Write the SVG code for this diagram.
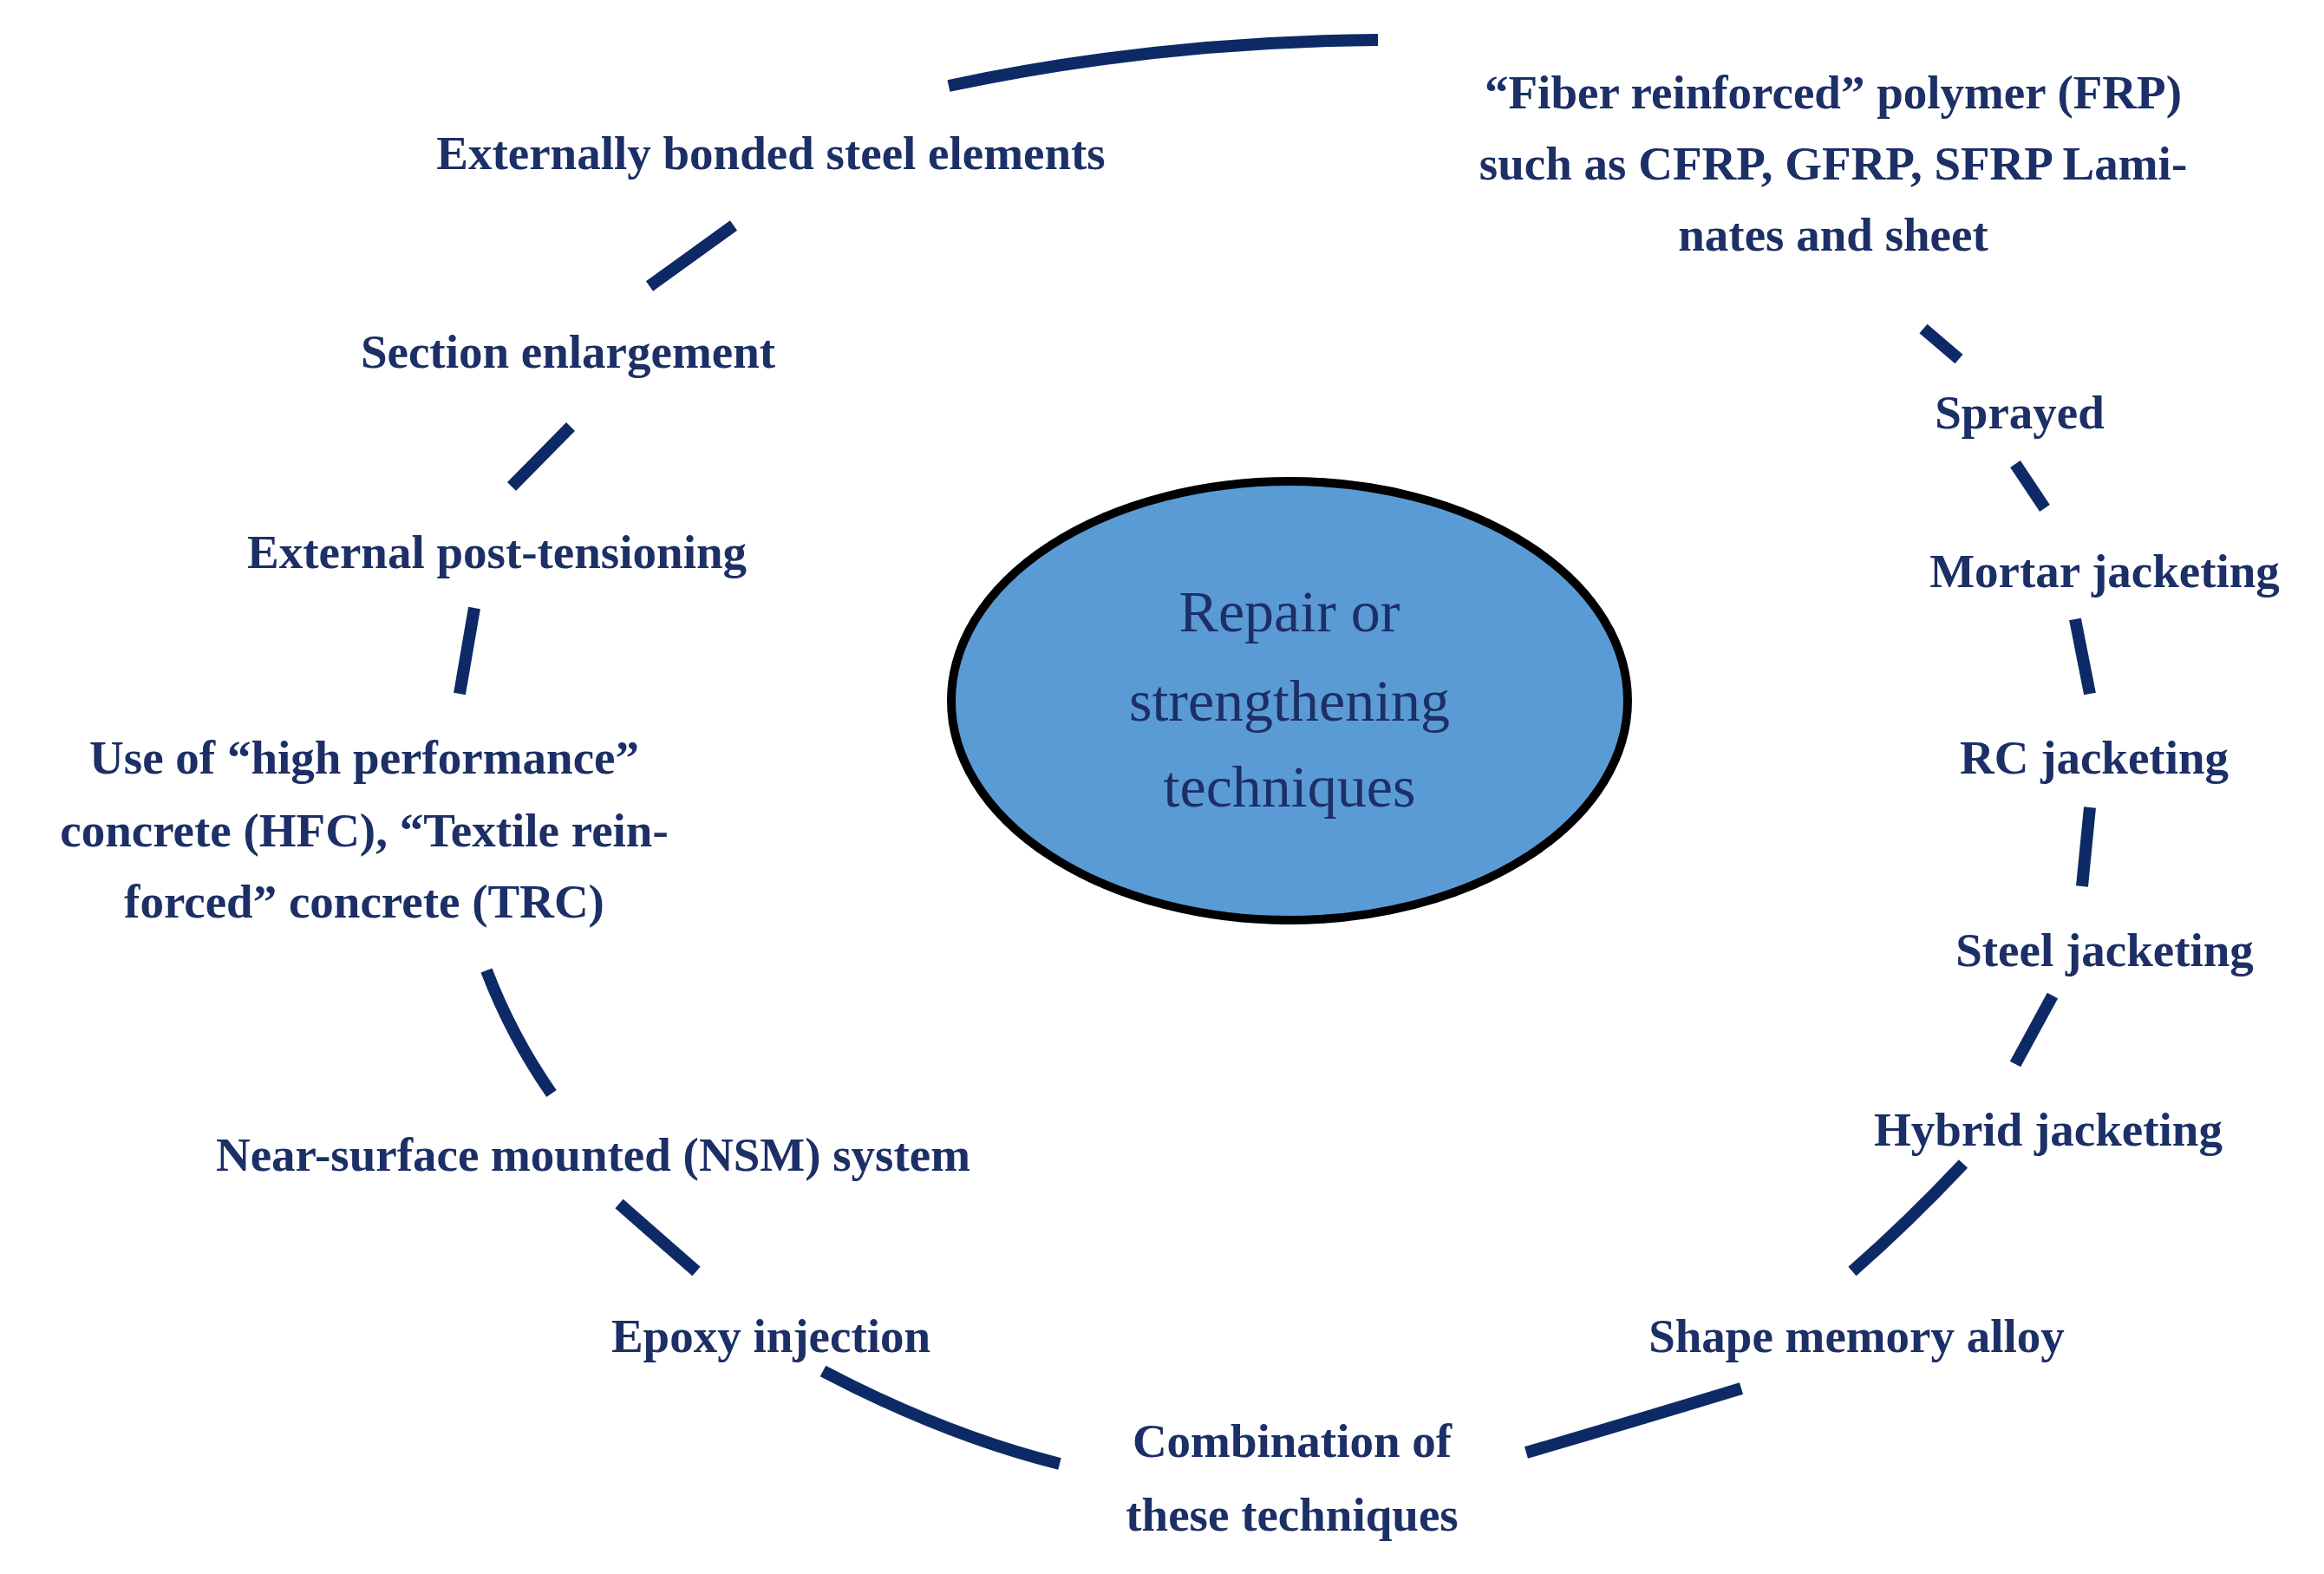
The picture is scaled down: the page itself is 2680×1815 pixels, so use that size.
<svg xmlns="http://www.w3.org/2000/svg" width="2680" height="1815" viewBox="0 0 2680 1815">
<style>
.lbl{font-family:"Liberation Serif",serif;font-weight:bold;font-size:55px;fill:#1c2f66;text-anchor:middle}
.ctr{font-family:"Liberation Serif",serif;font-size:68px;fill:#1c2f66;text-anchor:middle}
.arc{fill:none;stroke:#0e2a66;stroke-width:14}
</style>
<rect width="2680" height="1815" fill="#fff"/>
<g id="connectors">
<path class="arc" d="M1094,99 Q1333,48 1589,46"/>
<path class="arc" d="M846,260 L749,330"/>
<path class="arc" d="M658,492 L590,561"/>
<path class="arc" d="M547,701 L530,800"/>
<path class="arc" d="M561,1119 Q590,1195 636,1261"/>
<path class="arc" d="M714,1388 L803,1466"/>
<path class="arc" d="M949,1581 Q1090,1655 1222,1688"/>
<path class="arc" d="M1760,1675 Q1880,1640 2008,1601"/>
<path class="arc" d="M2136,1466 Q2200,1410 2264,1342"/>
<path class="arc" d="M2324,1227 L2367,1148"/>
<path class="arc" d="M2410,931 L2401,1022"/>
<path class="arc" d="M2393,714 L2410,800"/>
<path class="arc" d="M2324,535 L2358,586"/>
<path class="arc" d="M2218,379 L2259,414"/>
</g>
<g id="center">
<ellipse cx="1487" cy="808" rx="390" ry="253" fill="#5b9bd5" stroke="#000" stroke-width="10"/>
<text class="ctr" x="1487" y="728">Repair or</text>
<text class="ctr" x="1487" y="831">strengthening</text>
<text class="ctr" x="1487" y="930">techniques</text>
</g>
<g id="n1"><text class="lbl" x="889" y="195">Externally bonded steel elements</text></g>
<g id="n2"><text class="lbl" x="2114" y="125">“Fiber reinforced” polymer (FRP)</text><text class="lbl" x="2114" y="207">such as CFRP, GFRP, SFRP Lami-</text><text class="lbl" x="2114" y="289">nates and sheet</text></g>
<g id="n3"><text class="lbl" x="655" y="424">Section enlargement</text></g>
<g id="n4"><text class="lbl" x="2329" y="494">Sprayed</text></g>
<g id="n5"><text class="lbl" x="573" y="655">External post-tensioning</text></g>
<g id="n6"><text class="lbl" x="2427" y="677">Mortar jacketing</text></g>
<g id="n7"><text class="lbl" x="420" y="892">Use of “high performance”</text><text class="lbl" x="420" y="976">concrete (HFC), “Textile rein-</text><text class="lbl" x="420" y="1058">forced” concrete (TRC)</text></g>
<g id="n8"><text class="lbl" x="2415" y="892">RC jacketing</text></g>
<g id="n9"><text class="lbl" x="2427" y="1114">Steel jacketing</text></g>
<g id="n10"><text class="lbl" x="2362" y="1321">Hybrid jacketing</text></g>
<g id="n11"><text class="lbl" x="684" y="1350">Near-surface mounted (NSM) system</text></g>
<g id="n12"><text class="lbl" x="889" y="1559">Epoxy injection</text></g>
<g id="n13"><text class="lbl" x="2141" y="1559">Shape memory alloy</text></g>
<g id="n14"><text class="lbl" x="1490" y="1680">Combination of</text><text class="lbl" x="1490" y="1765">these techniques</text></g>
</svg>
